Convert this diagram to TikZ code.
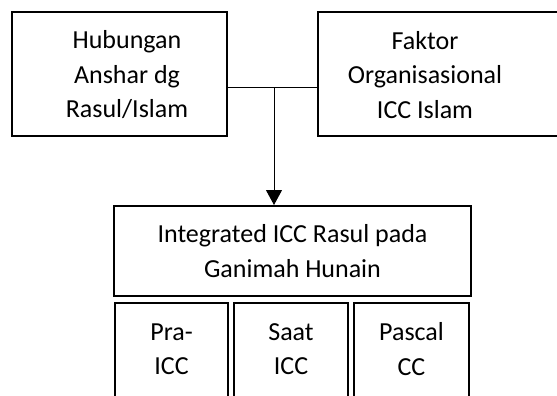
\documentclass[tikz,border=0pt]{standalone}
\usepackage{fontspec}
\setmainfont{Carlito}
\usetikzlibrary{arrows.meta}

\begin{document}
\begin{tikzpicture}[x=1pt,y=-1pt,
  boxtext/.style={align=center,inner sep=0pt,font=\fontsize{26}{34.5}\selectfont},
  box/.style={boxtext,draw,line width=2pt},
  phase/.style={box,minimum height=110pt,anchor=north,text depth=18pt},
  conn/.style={line width=1pt}]
\clip (0,0) rectangle (557,396);
\node[box,minimum width=215pt,minimum height=124pt] (hub) at (119.5,74) {};
\node[boxtext] (hubtext) at (127,75) {Hubungan\\Anshar dg\\Rasul/Islam};
\node[box,minimum width=264pt,minimum height=124pt,anchor=west] (faktor) at (317,74) {};
\node[boxtext] (faktortext) at (425,75) {Faktor\\Organisasional\\ICC Islam};
\node[box,minimum width=357pt,minimum height=90pt] (integ) at (292.5,251) {Integrated ICC Rasul pada\\Ganimah Hunain};
\node[phase,minimum width=113pt] (pra) at (171.5,302) {Pra-\\ICC};
\node[phase,minimum width=114pt] (saat) at (291,302) {Saat\\ICC};
\node[phase,minimum width=115pt] (pascal) at (411.5,302) {Pascal\\CC};
\coordinate (join) at (274,88);
\draw[conn] (hub.east |- join) -- (faktor.west |- join);
\draw[conn,-{Triangle[width=16pt,length=15pt]}] (join) -- (join |- integ.north);
\end{tikzpicture}
\end{document}
